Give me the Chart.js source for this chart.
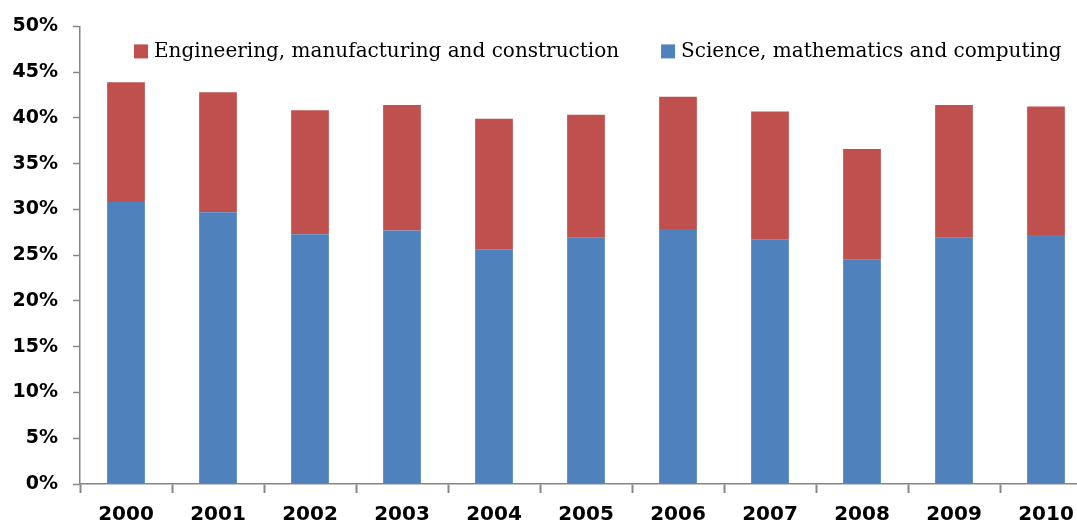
<!DOCTYPE html>
<html>
<head>
<meta charset="utf-8">
<script src="https://cdn.jsdelivr.net/npm/chart.js@4"></script>
<style>
    html, body { margin: 0; padding: 0; background: #fff; overflow: hidden; }
    #wrap { width: 1100px; height: 525px; position: relative; }
</style>
</head>
<body>
<div id="wrap"><canvas id="shareChart"></canvas></div>
<script>
// share of graduates by field, percent
const years = ['2000', '2001', '2002', '2003', '2004', '2005', '2006', '2007', '2008', '2009', '2010'];
const science = [30.8, 29.7, 27.3, 27.7, 25.6, 26.9, 27.85, 26.7, 24.5, 26.9, 27.2];
const engineering = [13.1, 13.1, 13.55, 13.7, 14.3, 13.45, 14.45, 14.0, 12.1, 14.5, 14.05];
const yTicks = [0, 5, 10, 15, 20, 25, 30, 35, 40, 45, 50];

const axisGray = '#868686';

// legend drawn over the top of the plot, last dataset first
const topLegend = {
    id: 'topLegend',
    afterDraw(chart) {
        const ctx = chart.ctx;
        const area = chart.chartArea;
        const items = chart.data.datasets.slice().reverse();
        let x = area.left + 54;
        const midY = area.top + 25;
        ctx.save();
        ctx.font = '20px "DejaVu Serif"';
        ctx.textBaseline = 'middle';
        ctx.textAlign = 'left';
        items.forEach(ds => {
            ctx.fillStyle = ds.backgroundColor;
            ctx.fillRect(x, midY - 7, 14, 14);
            x += 20;
            ctx.fillStyle = '#000';
            ctx.fillText(ds.label, x, midY);
            x += ctx.measureText(ds.label).width + 42;
        });
        ctx.restore();
    }
};

new Chart(document.getElementById('shareChart'), {
    type: 'bar',
    data: {
        labels: years,
        datasets: [
            {
                label: 'Science, mathematics and computing',
                data: science,
                backgroundColor: '#4F81BD',
                barPercentage: 0.41,
                categoryPercentage: 1
            },
            {
                label: 'Engineering, manufacturing and construction',
                data: engineering,
                backgroundColor: '#C0504D',
                barPercentage: 0.41,
                categoryPercentage: 1
            }
        ]
    },
    options: {
        responsive: true,
        maintainAspectRatio: false,
        animation: false,
        layout: { padding: { top: 26, right: 8, left: 0, bottom: 0 } },
        plugins: {
            legend: { display: false },
            tooltip: { enabled: false }
        },
        scales: {
            x: {
                stacked: true,
                afterFit: function(scale) { scale.height = 41; },
                border: { color: axisGray, width: 1.5 },
                grid: {
                    offset: true,
                    drawOnChartArea: false,
                    drawTicks: true,
                    tickLength: 9,
                    tickWidth: 2,
                    tickColor: axisGray
                },
                ticks: {
                    color: '#000',
                    padding: 10,
                    maxRotation: 0,
                    font: { family: 'DejaVu Sans', size: 20, weight: 'bold' }
                }
            },
            y: {
                stacked: true,
                min: 0,
                max: 50,
                afterFit: function(scale) { scale.width = 80; },
                afterBuildTicks: function(scale) {
                    scale.ticks = yTicks.map(v => ({ value: v }));
                },
                border: { color: axisGray, width: 1.5 },
                grid: {
                    drawOnChartArea: false,
                    drawTicks: true,
                    tickLength: 7,
                    tickWidth: 1.5,
                    tickColor: axisGray
                },
                ticks: {
                    color: '#000',
                    padding: 15,
                    font: { family: 'DejaVu Sans', size: 19, weight: 'bold' },
                    callback: function(value) { return value + '%'; }
                }
            }
        }
    },
    plugins: [topLegend]
});
</script>
</body>
</html>
